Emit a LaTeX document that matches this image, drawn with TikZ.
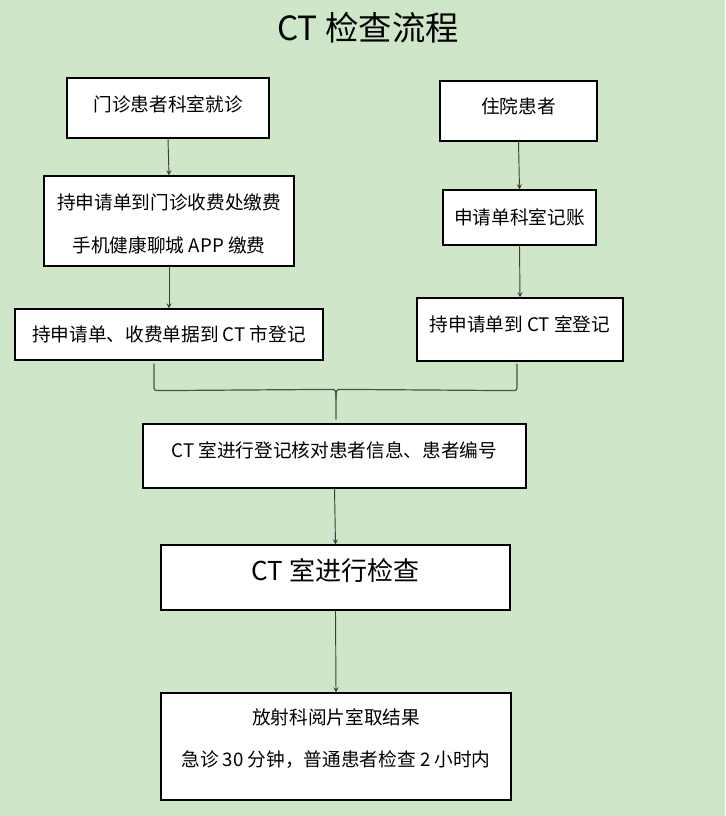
\documentclass[tikz,border=0pt]{standalone}
\usepackage{fontspec}
\setmainfont{Noto Sans CJK SC}
\usetikzlibrary{calc}
\definecolor{pagegreen}{RGB}{207,230,201}
\definecolor{linegray}{RGB}{60,60,60}
\definecolor{bracegray}{RGB}{72,82,72}

\begin{document}
\begin{tikzpicture}[
    x=0.75pt, y=-0.75pt,
    box/.style={rectangle, draw, line width=0.9pt, fill=white, align=center, inner sep=0pt, font=\fontsize{14pt}{32pt}\selectfont},
    lift/.style={text height=12pt, text depth=#1},
    flow/.style={->, >=stealth, line width=0.7pt, draw=linegray},
    bracket/.style={line width=0.9pt, draw=bracegray}
]
    % Background
    \fill[pagegreen] (0,0) rectangle (725,816);

    % Title
    \node[font=\fontsize{25pt}{30pt}\selectfont] (title) at (368,28) {CT 检查流程};

    % Outpatient branch
    \node[box, lift=7.4pt, minimum width=151.5pt, minimum height=45pt] (outpatient) at (168,108) {门诊患者科室就诊};
    \node[box, text height=48pt, text depth=1.4pt, minimum width=187.5pt, minimum height=67.5pt] (payment) at (169,221) {持申请单到门诊收费处缴费\\手机健康聊城 APP 缴费};
    \node[box, minimum width=231pt, minimum height=38.25pt] (outreg) at (169,334.5) {持申请单、收费单据到 CT 市登记};

    % Inpatient branch
    \node[box, lift=8.9pt, minimum width=117.75pt, minimum height=45pt] (inpatient) at (518.5,111) {住院患者};
    \node[box, minimum width=114.75pt, minimum height=41.25pt] (account) at (519.5,217.5) {申请单科室记账};
    \node[box, lift=9.6pt, minimum width=154.5pt, minimum height=47.25pt] (inreg) at (520,329.5) {持申请单到 CT 室登记};

    % Common steps
    \node[box, lift=10.4pt, minimum width=287.25pt, minimum height=48pt] (check) at (334.5,456) {CT 室进行登记核对患者信息、患者编号};
    \node[box, font=\fontsize{19.5pt}{24pt}\selectfont, text height=17pt, text depth=12pt, minimum width=261.75pt, minimum height=48.75pt] (exam) at (335.5,577.5) {CT 室进行检查};
    \node[box, text height=32pt, text depth=1.4pt, minimum width=262.5pt, minimum height=80.25pt] (result) at (336,746.5) {放射科阅片室取结果\\急诊 30 分钟，普通患者检查 2 小时内};

    % Arrows
    \draw[flow] (outpatient.south) -- (payment.north);
    \draw[flow] (payment.south) -- (outreg.north);
    \draw[flow] (inpatient.south) -- (account.north);
    \draw[flow] (account.south) -- (inreg.north);
    \draw[flow] (check.south) -- (exam.north);
    \draw[flow] (exam.south) -- (result.north);

    % Brace joining both branches
    \coordinate (tip) at ($(check.north)+(1.5,-4)$);
    \draw[bracket] ($(outreg.south)+(-15,3)$) -- ++(0,21) .. controls +(0,6) .. ++(6,6)
        -- ($(tip)+(-6,-30)$) .. controls ($(tip)+(0,-30)$) .. ($(tip)+(0,-20)$) -- (tip);
    \draw[bracket] ($(inreg.south)+(-3,2)$) -- ++(0,21) .. controls +(0,6) .. ++(-6,6)
        -- ($(tip)+(6,-30)$) .. controls ($(tip)+(0,-30)$) .. ($(tip)+(0,-20)$);

\end{tikzpicture}
\end{document}
